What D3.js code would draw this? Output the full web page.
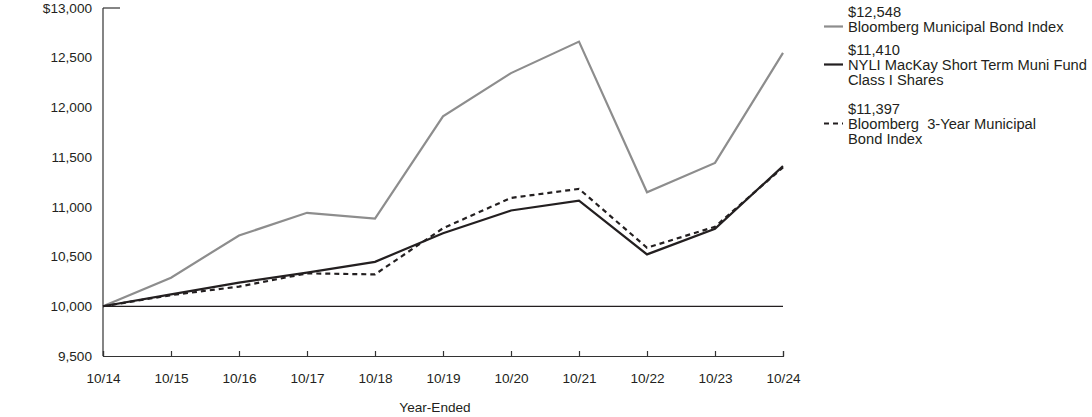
<!DOCTYPE html>
<html><head><meta charset="utf-8">
<script src="https://cdn.jsdelivr.net/npm/d3@7"></script>
<style>body{margin:0;background:#fff;}svg{display:block;font-family:"Liberation Sans",Arial,sans-serif;}text{white-space:pre;}</style>
</head><body>
<svg id="chart" width="1092" height="417"></svg>
<script>
const categories = ["10/14","10/15","10/16","10/17","10/18","10/19","10/20","10/21","10/22","10/23","10/24"];
const muniIndex = [10000,10288,10712,10940,10882,11910,12345,12662,11147,11442,12548];
const fund = [10000,10120,10238,10338,10447,10735,10963,11063,10522,10780,11410];
const threeYear = [10000,10112,10198,10331,10321,10785,11090,11181,10589,10800,11397];
const yTicks = [9500,10000,10500,11000,11500,12000,12500,13000];
const legendItems = [
  {value:"$12,548", lines:["Bloomberg Municipal Bond Index"], color:"#8d8d8d", dash:null},
  {value:"$11,410", lines:["NYLI MacKay Short Term Muni Fund","Class I Shares"], color:"#231f20", dash:null},
  {value:"$11,397", lines:["Bloomberg  3-Year Municipal","Bond Index"], color:"#231f20", dash:"5,4"}
];
const series = [
  {values:muniIndex, color:"#8d8d8d", dash:null},
  {values:threeYear, color:"#231f20", dash:"5,4"},
  {values:fund, color:"#231f20", dash:null}
];

const svg = d3.select("#chart");
const x = d3.scalePoint().domain(categories).range([103,783]);
const y = d3.scaleLinear().domain([9500,13000]).range([356,8]);
const axisFont = 13.6, legendFont = 14.7;

svg.append("line").attr("x1",103).attr("x2",103).attr("y1",y(13000)).attr("y2",y(9500))
  .attr("stroke","#333").attr("stroke-width",1.2);
svg.append("line").attr("x1",103).attr("x2",120).attr("y1",y(13000)).attr("y2",y(13000))
  .attr("stroke","#333").attr("stroke-width",1.2);
svg.selectAll("text.yl").data(yTicks).enter().append("text")
  .attr("x",92).attr("y",d=>y(d)).attr("dy","0.35em").attr("text-anchor","end")
  .attr("font-size",axisFont).attr("fill","#231f20")
  .text(d=> (d===13000?"$":"") + d3.format(",")(d));
const xAxis = d3.axisBottom(x).tickSize(-5).tickPadding(17);
const gx = svg.append("g").attr("transform",`translate(0,${y(9500)})`).call(xAxis);
gx.select(".domain").attr("stroke","#333").attr("stroke-width",1.2);
gx.selectAll(".tick line").attr("stroke","#333").attr("stroke-width",1.2);
gx.selectAll("text").attr("font-size",axisFont).attr("fill","#231f20").attr("font-family","Liberation Sans, Arial, sans-serif");
svg.append("line").attr("x1",103).attr("x2",783).attr("y1",y(10000)).attr("y2",y(10000))
  .attr("stroke","#231f20").attr("stroke-width",1.2);

svg.append("text").attr("x",435).attr("y",407).attr("dy","0.35em").attr("text-anchor","middle")
  .attr("font-size",axisFont).attr("fill","#231f20").text("Year-Ended");

const line = d3.line().x((d,i)=>x(categories[i])).y(d=>y(d));
series.forEach(s=>{
  svg.append("path").attr("d",line(s.values)).attr("fill","none")
    .attr("stroke",s.color).attr("stroke-width",2.2)
    .attr("stroke-dasharray",s.dash).attr("stroke-linejoin","miter");
});

const legendY = [12, 50, 109];
legendItems.forEach((item,i)=>{
  const g = svg.append("g").attr("transform",`translate(0,${legendY[i]})`);
  g.append("text").attr("x",848).attr("y",0).attr("dy","0.35em").attr("font-size",legendFont).attr("fill","#231f20").text(item.value);
  item.lines.forEach((t,j)=>{
    g.append("text").attr("x",848).attr("y",14.5+j*15).attr("dy","0.35em").attr("font-size",legendFont).attr("fill","#231f20").text(t);
  });
  g.append("line").attr("x1",824).attr("x2",843).attr("y1",14.5).attr("y2",14.5)
    .attr("stroke",item.color).attr("stroke-width",2.2).attr("stroke-dasharray",item.dash);
});
</script>
</body></html>
